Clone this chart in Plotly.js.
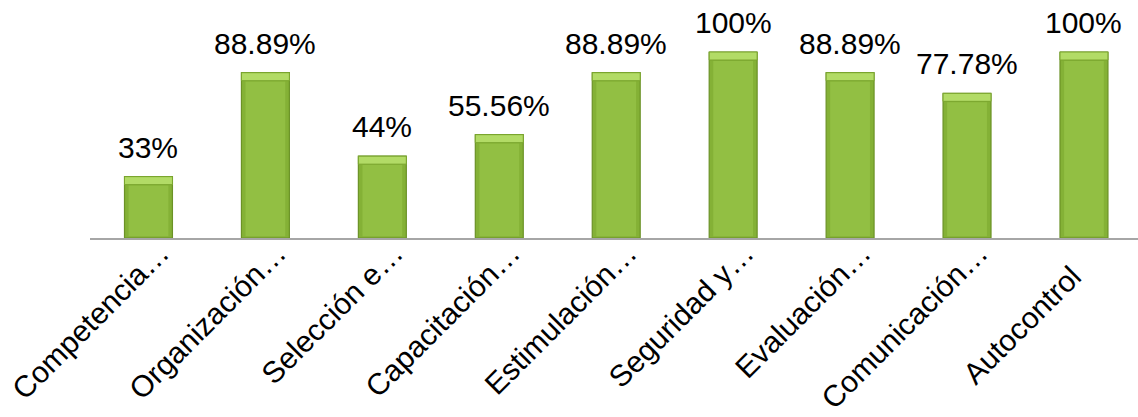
<!DOCTYPE html>
<html>
<head>
<meta charset="utf-8">
<script src="https://cdn.plot.ly/plotly-3.0.1.min.js"></script>
<style>html,body{margin:0;padding:0;background:#fff;overflow:hidden}</style>
</head>
<body>
<div id="chart" style="width:1138px;height:417px"></div>
<script>
const categories = ["Competencia…", "Organización…", "Selección e…", "Capacitación…", "Estimulación…", "Seguridad y…", "Evaluación…", "Comunicación…", "Autocontrol\u00a0\u00a0\u00a0\u00a0"];
const values = [33, 88.89, 44, 55.56, 88.89, 100, 88.89, 77.78, 100];
const valueLabels = ["33%", "88.89%", "44%", "55.56%", "88.89%", "100%", "88.89%", "77.78%", "100%"];

const capDepth = 4.3; // bevel depth in value units
const font = "Liberation Sans, Arial, sans-serif";

const body = {
  type: "bar", x: categories, y: values, width: 0.41,
  marker: {color: "#84b136", line: {color: "#6b9226", width: 1.2}},
  hoverinfo: "none"
};
const inner = {
  type: "bar", x: categories, y: values.map(v => v - capDepth - 1.5), base: values.map(() => 1.0), width: 0.34,
  marker: {color: "#92bf43", line: {width: 0}},
  hoverinfo: "none"
};
const cap = {
  type: "bar", x: categories, y: values.map(() => capDepth), base: values.map(v => v - capDepth), width: 0.41,
  marker: {color: "#b2db66", line: {color: "#7aa52e", width: 1}},
  hoverinfo: "none"
};

const annotations = categories.map((c, i) => ({
  x: c, y: values[i], text: valueLabels[i], showarrow: false,
  yanchor: "bottom", yshift: 11,
  font: {family: font, size: 30, color: "#000"}
}));

const layout = {
  width: 1138, height: 417,
  margin: {l: 89.5, r: 0, t: 10, b: 179, pad: 0},
  barmode: "overlay",
  showlegend: false,
  paper_bgcolor: "#fff", plot_bgcolor: "#fff",
  xaxis: {
    type: "category", range: [-0.5, 8.462],
    showline: true, linecolor: "#a6a6a6", linewidth: 1.5,
    showgrid: false, zeroline: false, ticks: "",
    tickangle: -45, automargin: false,
    ticklabelshift: 12, ticklabelstandoff: -16,
    tickfont: {family: font, size: 30, color: "#000"}
  },
  yaxis: {
    range: [0, 122.6], visible: false, showgrid: false, zeroline: false, automargin: false
  },
  annotations: annotations
};

Plotly.newPlot("chart", [body, inner, cap], layout, {displayModeBar: false, staticPlot: true});
</script>
</body>
</html>
